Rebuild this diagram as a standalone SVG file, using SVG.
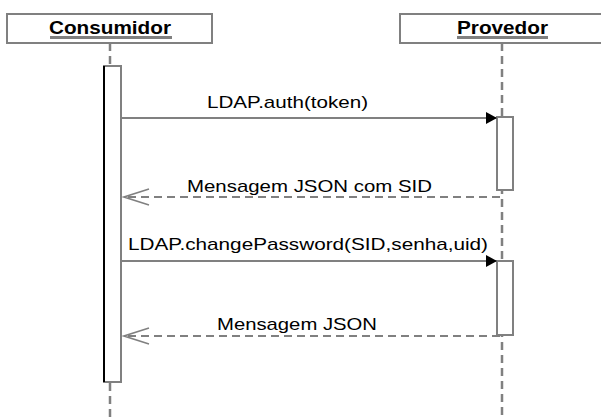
<svg xmlns="http://www.w3.org/2000/svg" width="601" height="419" viewBox="0 0 601 419">
<style>
.hdr{fill:#fff;stroke:#808080;stroke-width:2}
.ht{font-family:"Liberation Sans",Arial,sans-serif;font-weight:bold;font-size:18px;fill:#000}
.ul{stroke:#808080;stroke-width:3}
.life{stroke:#808080;stroke-width:2.5;stroke-dasharray:8 5;fill:none}
.act{fill:#fff;stroke:#808080;stroke-width:2}
.msg{stroke:#808080;stroke-width:2;fill:none}
.ret{stroke:#808080;stroke-width:2;fill:none;stroke-dasharray:8 5}
.mt{font-family:"Liberation Sans",Arial,sans-serif;font-size:17px;fill:#000}
</style>
<defs>
<marker id="fill" markerWidth="12" markerHeight="12" refX="11" refY="6" orient="auto" markerUnits="userSpaceOnUse">
<path d="M0,0 L11,6 L0,12 Z" fill="#000"/>
</marker>
<marker id="open" markerWidth="28" markerHeight="20" refX="26" refY="10" orient="auto" markerUnits="userSpaceOnUse">
<path d="M1,2 L26,10 L1,18" fill="none" stroke="#808080" stroke-width="1.5"/>
</marker>
</defs>
<g id="consumidor">
<rect class="hdr" x="7" y="14" width="205" height="29"/>
<text class="ht" x="110" y="34" text-anchor="middle" textLength="122" lengthAdjust="spacingAndGlyphs">Consumidor</text>
<line class="ul" x1="50" y1="37.5" x2="172" y2="37.5"/>
<line class="life" x1="110" y1="43" x2="110" y2="66"/>
<line class="life" x1="110" y1="383" x2="110" y2="419"/>
<rect class="act" x="104" y="66" width="17" height="316"/>
<line x1="104" y1="66" x2="104" y2="382" stroke="#000" stroke-width="2"/>
</g>
<g id="provedor">
<rect class="hdr" x="400" y="14" width="210" height="29"/>
<text class="ht" x="502.5" y="34" text-anchor="middle" textLength="91" lengthAdjust="spacingAndGlyphs">Provedor</text>
<line class="ul" x1="457" y1="37.5" x2="548" y2="37.5"/>
<line class="life" x1="502" y1="43" x2="502" y2="419"/>
<rect class="act" x="497" y="117" width="16" height="73"/>
<rect class="act" x="497" y="261" width="16" height="74"/>
</g>
<g id="connectors">
<line class="msg" x1="121" y1="118" x2="497" y2="118" marker-end="url(#fill)"/>
<text class="mt" x="207" y="108" textLength="161" lengthAdjust="spacingAndGlyphs">LDAP.auth(token)</text>
<line class="ret" x1="500" y1="197" x2="124" y2="197" marker-end="url(#open)"/>
<text class="mt" x="187" y="192" textLength="245" lengthAdjust="spacingAndGlyphs">Mensagem JSON com SID</text>
<line class="msg" x1="121" y1="261" x2="497" y2="261" marker-end="url(#fill)"/>
<text class="mt" x="128" y="250" textLength="360" lengthAdjust="spacingAndGlyphs">LDAP.changePassword(SID,senha,uid)</text>
<line class="ret" x1="500" y1="336" x2="124" y2="336" marker-end="url(#open)"/>
<text class="mt" x="217" y="330" textLength="160" lengthAdjust="spacingAndGlyphs">Mensagem JSON</text>
</g>
</svg>
